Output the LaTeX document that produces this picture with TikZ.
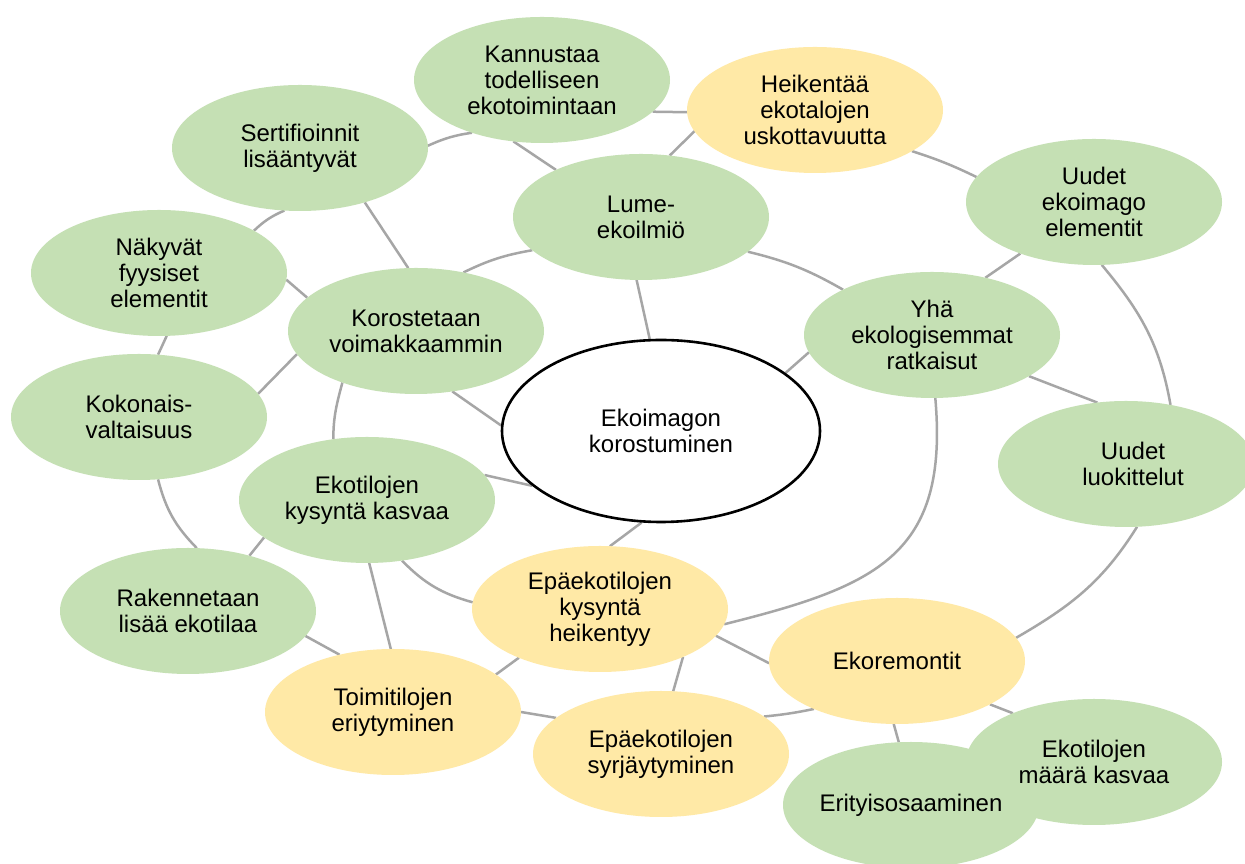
\documentclass[tikz,border=0pt]{standalone}
\usepackage{fontspec}
\setmainfont{Liberation Sans}
\usetikzlibrary{shapes.geometric,backgrounds}
\pgfdeclarelayer{fills}
\pgfsetlayers{background,fills,main}
\definecolor{bgreen}{HTML}{C5E0B4}
\definecolor{byellow}{HTML}{FFE9A6}
\definecolor{lgray}{HTML}{A6A6A6}
\tikzset{
  bub/.style={ellipse, minimum width=256pt, minimum height=126pt, inner xsep=-30pt, inner ysep=0pt,
    outer sep=0pt, align=center, text=black,
    font=\fontsize{24}{26}\selectfont},
  gbub/.style={bub, fill=bgreen},
  ybub/.style={bub, fill=byellow},
  tbub/.style={bub},
  link/.style={draw=lgray, line width=2.5pt},
}
\begin{document}
\begin{tikzpicture}[x=1pt,y=1pt]
\useasboundingbox (0,0) rectangle (1245,864);
% nodes
\node[gbub] (K)  at (542,784) {Kannustaa\\todelliseen\\ekotoimintaan};
\node[ybub] (H)  at (815,754) {Heikentää\\ekotalojen\\uskottavuutta};
\node[gbub] (S)  at (300,716) {Sertifioinnit\\lisääntyvät};
\node[gbub] (L)  at (641,647) {Lume-\\ekoilmiö};
\node[gbub] (U1) at (1094,662) {Uudet\\ekoimago\\elementit};
\node[gbub] (N)  at (159,591) {Näkyvät\\fyysiset\\elementit};
\node[gbub] (Ko) at (416,533) {Korostetaan\\voimakkaammin};
\node[gbub] (Y)  at (932,529) {Yhä\\ekologisemmat\\ratkaisut};
\node[gbub] (KV) at (139,447) {Kokonais-\\valtaisuus};
\node[ellipse, minimum width=318pt, minimum height=182pt, inner xsep=-30pt, inner ysep=0pt,
      draw=black, line width=2.6pt, fill=white, align=center,
      font=\fontsize{24}{26}\selectfont] (E) at (661,433) {Ekoimagon\\korostuminen};
\node[gbub] (UL) at (1126,400) {\hspace*{14pt}Uudet\\\hspace*{14pt}luokittelut};
\node[gbub] (EK) at (367,364) {Ekotilojen\\kysyntä kasvaa};
\node[gbub] (R)  at (188,253) {Rakennetaan\\lisää ekotilaa};
\node[ybub] (EH) at (600,255) {Epäekotilojen\\kysyntä\\heikentyy};
\node[ybub] (ER) at (897,203) {Ekoremontit};
\node[ybub] (T)  at (393,152) {Toimitilojen\\eriytyminen};
\node[ybub] (ES) at (661,110) {Epäekotilojen\\syrjäytyminen};
\node[tbub] (EM) at (1094,102) {Ekotilojen\\määrä kasvaa};
\node[tbub] (EO) at (911,59) {Erityisosaaminen};
% overlapping bubbles: fills beneath both texts
\begin{pgfonlayer}{fills}
\fill[bgreen] (EM.center) ellipse [x radius=128pt, y radius=63pt];
\fill[bgreen] (EO.center) ellipse [x radius=128pt, y radius=63pt];
\end{pgfonlayer}
% connectors
\begin{scope}[on background layer]
\fill[white] (0,0) rectangle (1245,864);
\draw[link] (K.245) -- (L.151);
\draw[link] (K.-16) -- (H.181);
\draw[link] (H.190) -- (L.65);
\draw[link] (S.1) to[bend left=8] (K.217);
\draw[link] (H.-23) to[bend left=4] (U1.168);
\draw[link] (U1.215) -- (Y.47);
\draw[link] (U1.-83) to[out=-50,in=100] (UL.53);
\draw[link] (L.-18) to[bend left=8] (Y.153);
\draw[link] (E.97) -- (L.266);
\draw[link] (E.25) -- (Y.188);
\draw[link] (Y.-23) -- (UL.115);
\draw[link] (Y.-87) to[out=-85,in=14,looseness=1.3] (EH.-7);
\draw[link] (UL.-80) to[out=-122,in=30] (ER.11);
\draw[link] (L.197) to[bend right=8] (Ko.51.5);
\draw[link] (S.-40) -- (Ko.97);
\draw[link] (N.24) to[bend left=10] (S.256);
\draw[link] (N.-3) -- (Ko.163);
\draw[link] (N.-83) -- (KV.73);
\draw[link] (KV.11) -- (Ko.191);
\draw[link] (Ko.-59) -- (E.178.5);
\draw[link] (Ko.215.5) to[out=-105,in=90] (EK.119.5);
\draw[link] (EK.12) -- (E.203);
\draw[link] (KV.-73) to[bend right=15] (R.82);
\draw[link] (EK.200) -- (R.42.6);
\draw[link] (EK.-60.5) to[bend right=15] (EH.177);
\draw[link] (EK.-88) -- (T.92);
\draw[link] (R.-12.5) -- (T.133.5);
\draw[link] (T.20) -- (EH.211.5);
\draw[link] (T.0) -- (ES.161);
\draw[link] (EH.81) -- (E.258);
\draw[link] (EH.-13.7) -- (ER.181);
\draw[link] (EH.-30) -- (ES.79);
\draw[link] (ES.20) to[bend right=3] (ER.210);
\draw[link] (ER.-93) -- (EO.101);
\draw[link] (ER.-25) -- (EM.149);
\end{scope}
\end{tikzpicture}
\end{document}
